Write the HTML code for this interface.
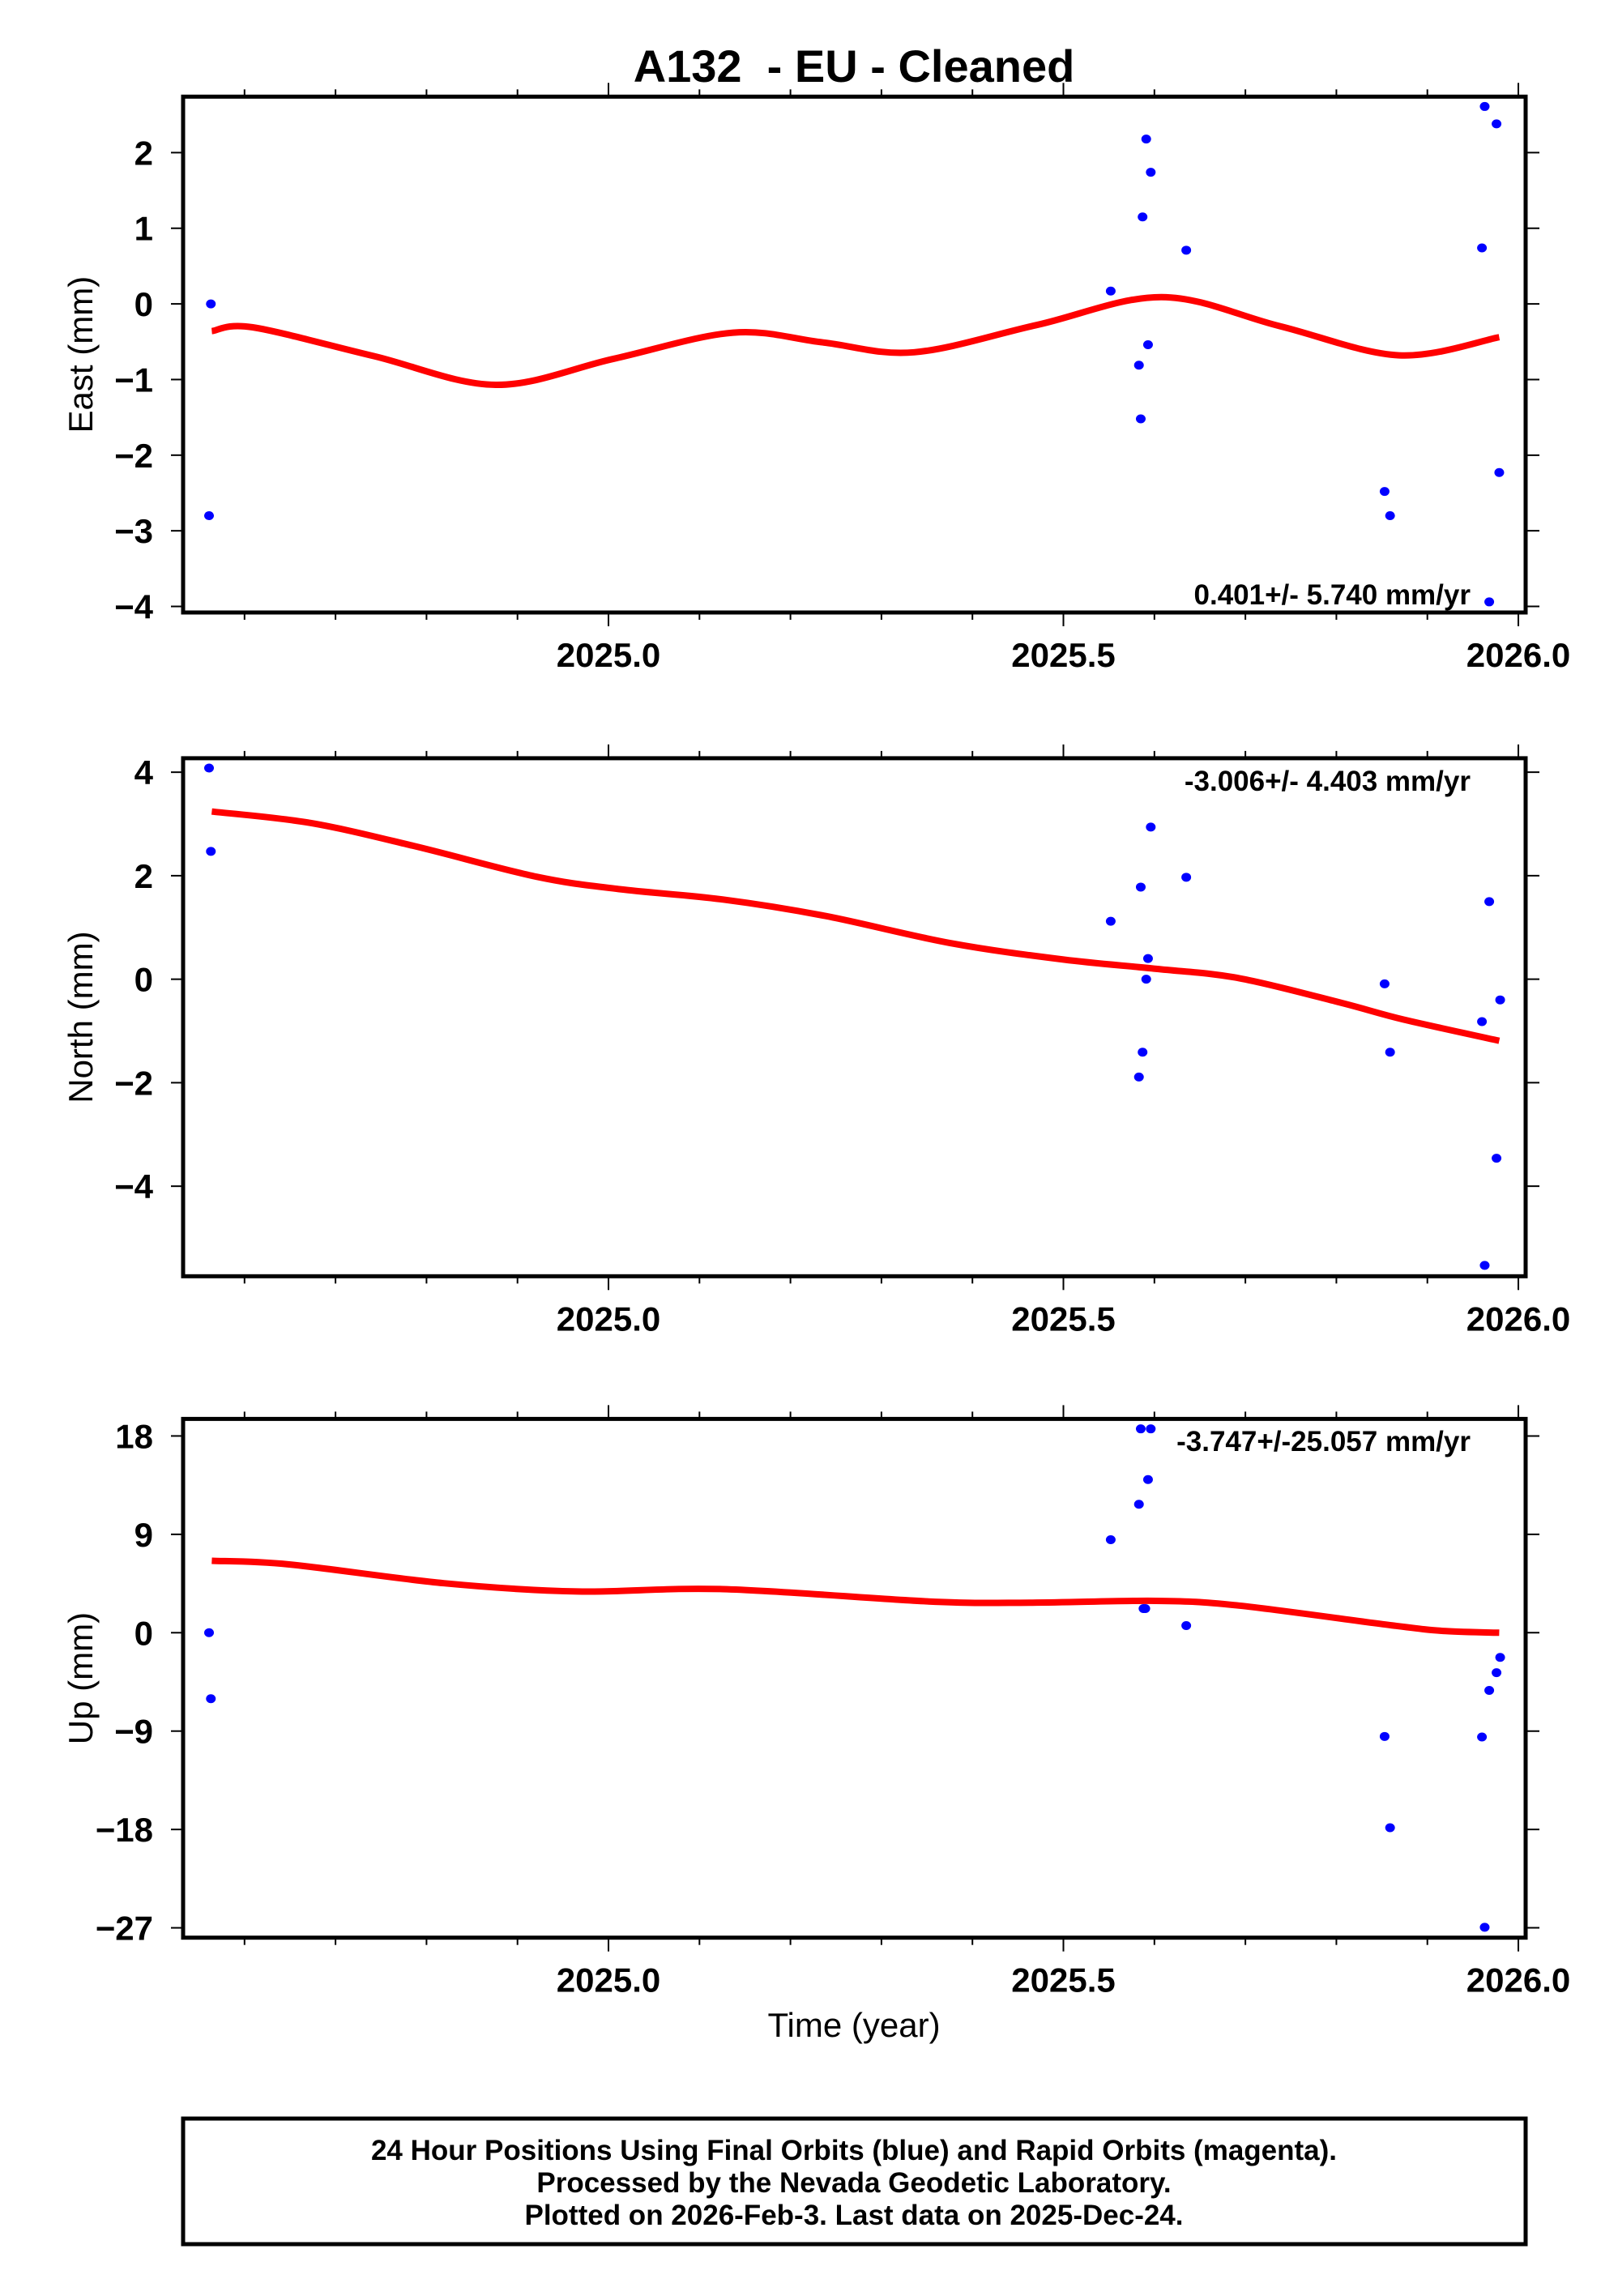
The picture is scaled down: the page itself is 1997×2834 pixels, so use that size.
<!DOCTYPE html>
<html><head><meta charset="utf-8"><style>
html,body{margin:0;padding:0;background:#fff}
svg{display:block}
text{font-family:"Liberation Sans",Arial,sans-serif}
</style></head><body>
<svg id="chart" width="1997" height="2834" viewBox="0 0 1997 2834" xmlns="http://www.w3.org/2000/svg">
<rect width="1997" height="2834" fill="#fff"/>
<text x="1054" y="101" text-anchor="middle" font-size="56" font-weight="bold" xml:space="preserve">A132  - EU - Cleaned</text>
<g id="plots"></g>
<text x="1054" y="2514" text-anchor="middle" font-size="42">Time (year)</text>
<rect x="226" y="2615" width="1657" height="155" fill="none" stroke="#000" stroke-width="5"/>
<text x="1054" y="2666" text-anchor="middle" font-size="35" font-weight="bold">24 Hour Positions Using Final Orbits (blue) and Rapid Orbits (magenta).</text>
<text x="1054" y="2706" text-anchor="middle" font-size="35" font-weight="bold">Processed by the Nevada Geodetic Laboratory.</text>
<text x="1054" y="2746" text-anchor="middle" font-size="35" font-weight="bold">Plotted on 2026-Feb-3. Last data on 2025-Dec-24.</text>
</svg>
<script>
const xTicks = [2024.6,2024.7,2024.8,2024.9,2025.0,2025.1,2025.2,2025.3,2025.4,2025.5,2025.6,2025.7,2025.8,2025.9,2026.0];
const xLabels = ["2025.0","2025.5","2026.0"];

const eastT = [2024.563,2024.561,2025.552,2025.591,2025.596,2025.587,2025.635,2025.593,2025.583,2025.585,2025.853,2025.859,2025.963,2025.976,2025.960,2025.979,2025.968];
const eastV = [0,-2.80,0.17,2.18,1.74,1.15,0.71,-0.54,-0.81,-1.52,-2.48,-2.80,2.61,2.38,0.74,-2.23,-3.94];
const eastFitT = [2024.564,2024.609,2024.742,2024.876,2025.006,2025.137,2025.236,2025.336,2025.472,2025.608,2025.738,2025.869,2025.979];
const eastFitV = [-0.36,-0.31,-0.69,-1.07,-0.725,-0.38,-0.51,-0.64,-0.275,0.09,-0.295,-0.68,-0.44];
const eastTicks = [2,1,0,-1,-2,-3,-4];
const eastRate = "0.401+/- 5.740 mm/yr";

const northT = [2024.561,2024.563,2025.552,2025.596,2025.585,2025.635,2025.593,2025.591,2025.587,2025.583,2025.853,2025.859,2025.968,2025.960,2025.980,2025.976,2025.963];
const northV = [4.08,2.47,1.12,2.94,1.78,1.97,0.40,0,-1.41,-1.89,-0.09,-1.41,1.50,-0.82,-0.40,-3.46,-5.53];
const northFitT = [2024.564,2024.672,2024.785,2024.921,2025.012,2025.126,2025.239,2025.375,2025.500,2025.602,2025.693,2025.806,2025.874,2025.979];
const northFitV = [3.24,3.02,2.58,1.98,1.74,1.54,1.22,0.70,0.38,0.20,0.02,-0.46,-0.78,-1.19];
const northTicks = [4,2,0,-2,-4];
const northRate = "-3.006+/- 4.403 mm/yr";

const upT = [2024.561,2024.563,2025.552,2025.583,2025.585,2025.596,2025.593,2025.588,2025.590,2025.635,2025.853,2025.859,2025.960,2025.968,2025.976,2025.980,2025.963];
const upV = [0,-6.04,8.51,11.75,18.65,18.65,14.01,2.21,2.21,0.65,-9.49,-17.84,-9.54,-5.28,-3.66,-2.26,-26.95];
const upFitT = [2024.564,2024.649,2024.819,2024.966,2025.126,2025.352,2025.466,2025.602,2025.693,2025.863,2025.920,2025.979];
const upFitV = [6.58,6.25,4.53,3.77,3.99,2.86,2.75,2.91,2.48,0.65,0.15,0];
const upTicks = [18,9,0,-9,-18,-27];
const upRate = "-3.747+/-25.057 mm/yr";

const NS="http://www.w3.org/2000/svg";
const X0=226, X1=1883, T0=2024.5325, T1=2026.008;
function xs(t){return X0+(t-T0)/(T1-T0)*(X1-X0);}
function mk(tag,attrs,parent){const e=document.createElementNS(NS,tag);for(const k in attrs)e.setAttribute(k,attrs[k]);parent.appendChild(e);return e;}

function smoothPath(px,py){
  let d="M"+px[0].toFixed(1)+","+py[0].toFixed(1);
  for(let i=0;i<px.length-1;i++){
    const p0=i>0?i-1:i, p3=i+2<px.length?i+2:i+1;
    const c1x=px[i]+(px[i+1]-px[p0])/6, c1y=py[i]+(py[i+1]-py[p0])/6;
    const c2x=px[i+1]-(px[p3]-px[i])/6, c2y=py[i+1]-(py[p3]-py[i])/6;
    d+=" C"+c1x.toFixed(1)+","+c1y.toFixed(1)+" "+c2x.toFixed(1)+","+c2y.toFixed(1)+" "+px[i+1].toFixed(1)+","+py[i+1].toFixed(1);
  }
  return d;
}

function panel(name,top,bottom,vmin,vmax,ticks,T,V,FT,FV,title,rate,rateY){
  const root=document.getElementById('plots');
  const g=mk('g',{},root);
  
  
  const ys=v=>bottom-(v-vmin)/(vmax-vmin)*(bottom-top);
  xTicks.forEach(t=>{
    const r=Math.round(t*10)%5;
    const major=r===0;
    const L=major?17:9, x=xs(t);
    const a=mk('line',{x1:x,x2:x,y1:top,y2:top-L,stroke:'#000','stroke-width':2},g);
    
    
    const b=mk('line',{x1:x,x2:x,y1:bottom,y2:bottom+L,stroke:'#000','stroke-width':2},g);
    
    
  });
  xLabels.forEach(s=>{
    const tx=mk('text',{x:xs(parseFloat(s)),y:bottom+67,'text-anchor':'middle','font-size':42,'font-weight':'bold'},g);
    tx.textContent=s;
    
    
  });
  ticks.forEach(v=>{
    const y=ys(v);
    const r=mk('line',{x1:X1,x2:X1+17,y1:y,y2:y,stroke:'#000','stroke-width':2},g);
    
    
    const l=mk('line',{x1:X0,x2:X0-15,y1:y,y2:y,stroke:'#000','stroke-width':2},g);
    
    
    const tx=mk('text',{x:189,y:y+15,'text-anchor':'end','font-size':42,'font-weight':'bold'},g);
    tx.textContent=(v<0?'\u2212':'')+Math.abs(v);
    
    
  });
  const cy=(top+bottom)/2;
  const yt=mk('text',{x:0,y:0,'text-anchor':'middle','font-size':42,transform:'translate(114,'+cy+') rotate(-90)'},g);
  yt.textContent=title;
  
  
  const cp=mk('path',{d:smoothPath(FT.map(xs),FV.map(ys)),fill:'none',stroke:'#ff0000','stroke-width':8,'stroke-linecap':'butt','stroke-linejoin':'round'},g);
  
  
  for(let i=0;i<T.length;i++){
    const c=mk('ellipse',{cx:xs(T[i]),cy:ys(V[i]),rx:6,ry:5.5,fill:'#0000ff'},g);
    
    
  }
  const rt=mk('text',{x:1815,y:rateY,'text-anchor':'end','font-size':35,'font-weight':'bold'},g);
  rt.textContent=rate;
  
  
  const fr=mk('rect',{x:X0,y:top,width:X1-X0,height:bottom-top,fill:'none',stroke:'#000','stroke-width':5},g);
  
  
}

panel('east',119.3,756,-4.08,2.74,eastTicks,eastT,eastV,eastFitT,eastFitV,'East (mm)',eastRate,746);
panel('north',935.9,1575.3,-5.74,4.27,northTicks,northT,northV,northFitT,northFitV,'North (mm)',northRate,976);
panel('up',1751.4,2391.7,-27.9,19.56,upTicks,upT,upV,upFitT,upFitV,'Up (mm)',upRate,1791);
</script>
</body></html>
